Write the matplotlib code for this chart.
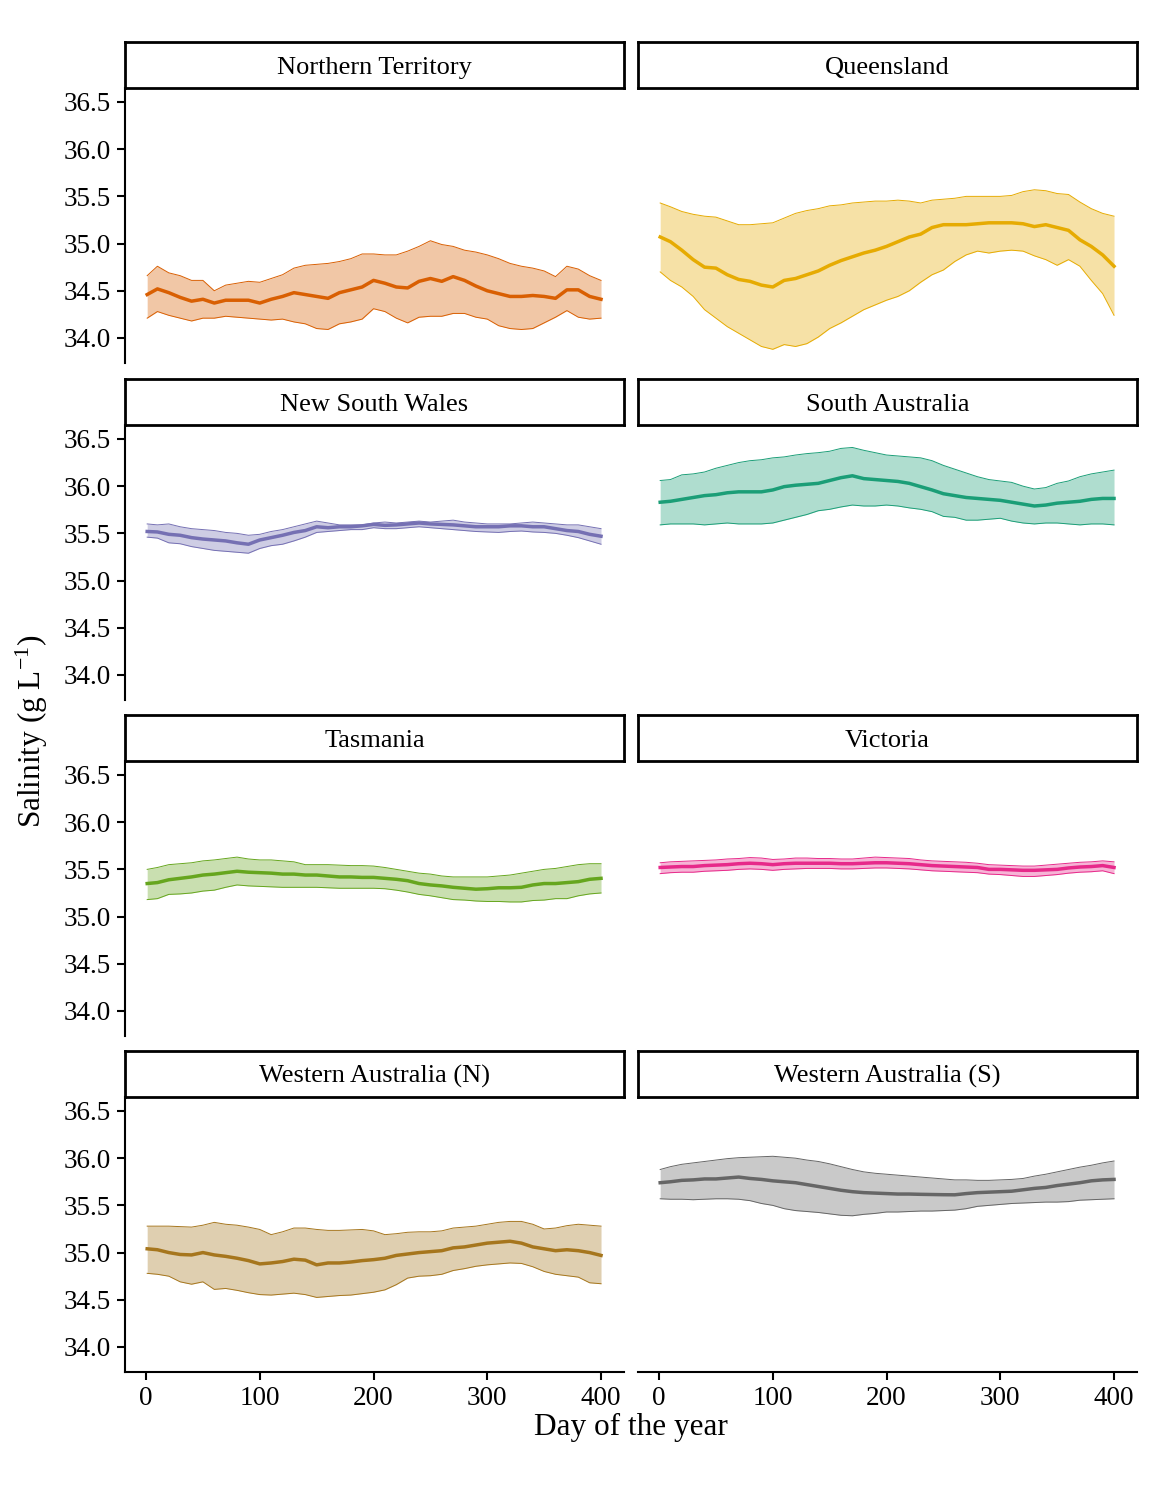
import matplotlib
matplotlib.use("Agg")
import matplotlib.pyplot as plt

plt.rcParams['font.family'] = ['Liberation Serif', 'DejaVu Serif']
plt.rcParams['mathtext.fontset'] = 'custom'
plt.rcParams['mathtext.rm'] = 'Liberation Serif'
plt.rcParams['mathtext.it'] = 'Liberation Serif:italic'

# day of the year (sampling points)
days = [1, 10, 20, 30, 40, 50, 60, 70, 80, 90, 100, 110, 120, 130, 140, 150, 160, 170, 180, 190,
        200, 210, 220, 230, 240, 250, 260, 270, 280, 290, 300, 310, 320, 330, 340, 350, 360, 370,
        380, 390, 400]

regions = ["Northern Territory", "Queensland", "New South Wales", "South Australia",
           "Tasmania", "Victoria", "Western Australia (N)", "Western Australia (S)"]
colors = ["#D95F02", "#E6AB02", "#7570B3", "#1B9E77", "#66A61E", "#E7298A", "#A6761D", "#666666"]

# Northern Territory
nt_mean = [34.46, 34.52, 34.48, 34.43, 34.39, 34.41, 34.37, 34.40, 34.40, 34.40, 34.37, 34.41, 34.44,
           34.48, 34.46, 34.44, 34.42, 34.48, 34.51, 34.54, 34.61, 34.58, 34.54, 34.53, 34.60, 34.63,
           34.60, 34.65, 34.61, 34.55, 34.50, 34.47, 34.44, 34.44, 34.45, 34.44, 34.42, 34.51, 34.51,
           34.44, 34.41]
nt_hi = [34.66, 34.76, 34.69, 34.66, 34.61, 34.61, 34.50, 34.56, 34.58, 34.60, 34.59, 34.63, 34.67,
         34.74, 34.77, 34.78, 34.79, 34.81, 34.84, 34.89, 34.89, 34.88, 34.88, 34.92, 34.97, 35.03,
         34.99, 34.97, 34.93, 34.91, 34.88, 34.84, 34.79, 34.76, 34.74, 34.71, 34.65, 34.76, 34.73,
         34.66, 34.61]
nt_lo = [34.21, 34.28, 34.24, 34.21, 34.18, 34.21, 34.21, 34.23, 34.22, 34.21, 34.20, 34.19, 34.20,
         34.17, 34.15, 34.10, 34.09, 34.15, 34.17, 34.20, 34.31, 34.28, 34.21, 34.16, 34.22, 34.23,
         34.23, 34.26, 34.26, 34.22, 34.20, 34.13, 34.10, 34.09, 34.10, 34.16, 34.22, 34.29, 34.22,
         34.20, 34.21]

# Queensland
qld_mean = [35.07, 35.02, 34.93, 34.83, 34.75, 34.74, 34.67, 34.62, 34.60, 34.56, 34.54, 34.61, 34.63,
            34.67, 34.71, 34.77, 34.82, 34.86, 34.90, 34.93, 34.97, 35.02, 35.07, 35.10, 35.17, 35.20,
            35.20, 35.20, 35.21, 35.22, 35.22, 35.22, 35.21, 35.18, 35.20, 35.17, 35.14, 35.04, 34.97,
            34.88, 34.76]
qld_hi = [35.43, 35.39, 35.34, 35.31, 35.29, 35.28, 35.24, 35.20, 35.20, 35.21, 35.22, 35.27, 35.32,
          35.35, 35.37, 35.40, 35.41, 35.43, 35.44, 35.45, 35.45, 35.46, 35.45, 35.43, 35.46, 35.47,
          35.48, 35.50, 35.50, 35.50, 35.50, 35.51, 35.55, 35.57, 35.56, 35.53, 35.52, 35.44, 35.37,
          35.32, 35.29]
qld_lo = [34.70, 34.61, 34.54, 34.44, 34.30, 34.21, 34.12, 34.05, 33.98, 33.91, 33.88, 33.93, 33.91,
          33.94, 34.01, 34.10, 34.16, 34.23, 34.30, 34.35, 34.40, 34.44, 34.50, 34.59, 34.67, 34.72,
          34.81, 34.88, 34.92, 34.90, 34.92, 34.93, 34.92, 34.87, 34.83, 34.77, 34.83, 34.76, 34.61,
          34.47, 34.24]

# New South Wales
nsw_mean = [35.52, 35.515, 35.49, 35.48, 35.455, 35.44, 35.43, 35.42, 35.40, 35.385, 35.43, 35.455,
            35.48, 35.51, 35.53, 35.57, 35.56, 35.57, 35.57, 35.58, 35.595, 35.585, 35.59, 35.60, 35.61,
            35.60, 35.595, 35.59, 35.58, 35.57, 35.57, 35.57, 35.58, 35.58, 35.57, 35.57, 35.55, 35.53,
            35.52, 35.49, 35.47]
nsw_hi = [35.60, 35.59, 35.60, 35.57, 35.55, 35.54, 35.53, 35.51, 35.50, 35.48, 35.49, 35.52, 35.54,
          35.57, 35.60, 35.63, 35.61, 35.59, 35.59, 35.59, 35.61, 35.62, 35.61, 35.62, 35.63, 35.62,
          35.63, 35.64, 35.62, 35.61, 35.60, 35.60, 35.60, 35.61, 35.62, 35.61, 35.60, 35.59, 35.59,
          35.57, 35.55]
nsw_lo = [35.46, 35.45, 35.40, 35.39, 35.36, 35.34, 35.32, 35.31, 35.30, 35.29, 35.34, 35.37, 35.385,
          35.42, 35.46, 35.51, 35.52, 35.53, 35.54, 35.54, 35.56, 35.55, 35.55, 35.56, 35.57, 35.56,
          35.55, 35.54, 35.53, 35.52, 35.515, 35.51, 35.52, 35.525, 35.515, 35.51, 35.50, 35.48,
          35.455, 35.42, 35.385]

# South Australia
sa_mean = [35.83, 35.84, 35.86, 35.88, 35.90, 35.91, 35.93, 35.94, 35.94, 35.94, 35.96, 35.995, 36.01,
           36.02, 36.03, 36.06, 36.09, 36.11, 36.08, 36.07, 36.06, 36.05, 36.03, 35.995, 35.96, 35.92,
           35.90, 35.88, 35.87, 35.86, 35.85, 35.83, 35.81, 35.79, 35.80, 35.82, 35.83, 35.84, 35.86,
           35.87, 35.87]
sa_hi = [36.06, 36.07, 36.12, 36.13, 36.15, 36.19, 36.22, 36.25, 36.27, 36.28, 36.30, 36.31, 36.33,
         36.345, 36.355, 36.37, 36.40, 36.41, 36.38, 36.355, 36.33, 36.32, 36.31, 36.30, 36.27, 36.22,
         36.18, 36.14, 36.10, 36.07, 36.055, 36.04, 36.00, 35.97, 35.985, 36.03, 36.055, 36.10, 36.13,
         36.15, 36.17]
sa_lo = [35.59, 35.60, 35.60, 35.60, 35.59, 35.60, 35.61, 35.60, 35.60, 35.60, 35.61, 35.64, 35.67,
         35.70, 35.74, 35.755, 35.78, 35.80, 35.79, 35.79, 35.80, 35.79, 35.77, 35.755, 35.73, 35.68,
         35.67, 35.64, 35.64, 35.65, 35.66, 35.63, 35.61, 35.60, 35.61, 35.61, 35.60, 35.59, 35.60,
         35.60, 35.59]

# Tasmania
tas_mean = [35.35, 35.36, 35.39, 35.405, 35.42, 35.44, 35.45, 35.465, 35.48, 35.47, 35.465, 35.46,
            35.45, 35.45, 35.44, 35.44, 35.43, 35.42, 35.42, 35.415, 35.415, 35.405, 35.395, 35.38,
            35.35, 35.335, 35.325, 35.31, 35.30, 35.29, 35.295, 35.305, 35.305, 35.31, 35.335, 35.35,
            35.35, 35.36, 35.37, 35.395, 35.405]
tas_hi = [35.50, 35.52, 35.55, 35.56, 35.57, 35.59, 35.60, 35.615, 35.63, 35.61, 35.60, 35.60, 35.59,
          35.58, 35.55, 35.55, 35.55, 35.545, 35.54, 35.54, 35.535, 35.52, 35.50, 35.48, 35.46, 35.45,
          35.43, 35.42, 35.42, 35.42, 35.42, 35.43, 35.44, 35.46, 35.48, 35.50, 35.51, 35.53, 35.55,
          35.56, 35.56]
tas_lo = [35.18, 35.19, 35.235, 35.24, 35.25, 35.27, 35.28, 35.31, 35.335, 35.325, 35.32, 35.315, 35.31,
          35.31, 35.31, 35.31, 35.305, 35.30, 35.30, 35.30, 35.30, 35.295, 35.28, 35.26, 35.235, 35.22,
          35.20, 35.18, 35.175, 35.165, 35.16, 35.16, 35.155, 35.155, 35.17, 35.175, 35.19, 35.19,
          35.22, 35.24, 35.25]

# Victoria
vic_mean = [35.52, 35.525, 35.53, 35.53, 35.54, 35.545, 35.55, 35.56, 35.565, 35.56, 35.55, 35.56,
            35.565, 35.565, 35.565, 35.565, 35.56, 35.56, 35.565, 35.57, 35.57, 35.565, 35.56, 35.55,
            35.54, 35.535, 35.53, 35.525, 35.52, 35.50, 35.50, 35.495, 35.49, 35.49, 35.495, 35.50,
            35.515, 35.525, 35.53, 35.54, 35.52]
vic_hi = [35.57, 35.58, 35.585, 35.59, 35.595, 35.60, 35.61, 35.615, 35.625, 35.62, 35.605, 35.61,
          35.62, 35.62, 35.615, 35.615, 35.61, 35.61, 35.62, 35.63, 35.625, 35.62, 35.615, 35.60, 35.59,
          35.585, 35.58, 35.575, 35.565, 35.55, 35.545, 35.54, 35.535, 35.535, 35.545, 35.555, 35.565,
          35.575, 35.58, 35.59, 35.58]
vic_lo = [35.455, 35.465, 35.47, 35.47, 35.48, 35.485, 35.49, 35.50, 35.505, 35.50, 35.49, 35.50,
          35.505, 35.51, 35.51, 35.51, 35.505, 35.505, 35.51, 35.515, 35.515, 35.51, 35.505, 35.495,
          35.485, 35.48, 35.475, 35.47, 35.465, 35.45, 35.445, 35.435, 35.425, 35.425, 35.435, 35.445,
          35.46, 35.47, 35.475, 35.485, 35.455]

# Western Australia (N)
wan_mean = [35.04, 35.03, 35.00, 34.98, 34.975, 35.00, 34.975, 34.96, 34.94, 34.915, 34.88, 34.89,
            34.905, 34.93, 34.92, 34.87, 34.89, 34.89, 34.90, 34.915, 34.925, 34.94, 34.97, 34.985,
            35.00, 35.01, 35.02, 35.05, 35.06, 35.08, 35.10, 35.11, 35.12, 35.10, 35.06, 35.04, 35.02,
            35.03, 35.02, 35.00, 34.97]
wan_hi = [35.28, 35.28, 35.28, 35.275, 35.27, 35.29, 35.32, 35.30, 35.29, 35.27, 35.245, 35.19, 35.22,
          35.26, 35.26, 35.245, 35.235, 35.235, 35.24, 35.245, 35.23, 35.19, 35.20, 35.215, 35.22,
          35.22, 35.23, 35.26, 35.27, 35.28, 35.30, 35.32, 35.33, 35.33, 35.30, 35.25, 35.26, 35.285,
          35.30, 35.29, 35.28]
wan_lo = [34.78, 34.77, 34.75, 34.69, 34.665, 34.69, 34.61, 34.62, 34.60, 34.575, 34.555, 34.55,
          34.56, 34.57, 34.555, 34.525, 34.535, 34.545, 34.55, 34.565, 34.58, 34.605, 34.66, 34.73,
          34.75, 34.755, 34.77, 34.81, 34.83, 34.855, 34.87, 34.88, 34.89, 34.885, 34.85, 34.80, 34.77,
          34.755, 34.74, 34.68, 34.67]

# Western Australia (S)
was_mean = [35.74, 35.75, 35.765, 35.77, 35.78, 35.78, 35.79, 35.80, 35.785, 35.775, 35.76, 35.75,
            35.74, 35.72, 35.70, 35.68, 35.66, 35.645, 35.635, 35.63, 35.625, 35.62, 35.62, 35.617,
            35.615, 35.613, 35.612, 35.625, 35.635, 35.64, 35.645, 35.65, 35.665, 35.68, 35.69, 35.71,
            35.725, 35.74, 35.76, 35.77, 35.775]
was_hi = [35.88, 35.91, 35.935, 35.95, 35.965, 35.98, 35.995, 36.005, 36.01, 36.015, 36.02, 36.01,
          36.00, 35.98, 35.965, 35.94, 35.91, 35.88, 35.855, 35.84, 35.83, 35.82, 35.81, 35.80, 35.79,
          35.78, 35.77, 35.77, 35.765, 35.765, 35.77, 35.775, 35.785, 35.81, 35.83, 35.855, 35.88,
          35.905, 35.925, 35.95, 35.97]
was_lo = [35.57, 35.565, 35.565, 35.56, 35.565, 35.57, 35.57, 35.565, 35.55, 35.52, 35.50, 35.465,
          35.445, 35.435, 35.425, 35.41, 35.395, 35.39, 35.405, 35.415, 35.43, 35.43, 35.435, 35.44,
          35.44, 35.445, 35.45, 35.465, 35.49, 35.50, 35.51, 35.52, 35.525, 35.53, 35.535, 35.535,
          35.54, 35.555, 35.56, 35.565, 35.57]

means = [nt_mean, qld_mean, nsw_mean, sa_mean, tas_mean, vic_mean, wan_mean, was_mean]
highs = [nt_hi, qld_hi, nsw_hi, sa_hi, tas_hi, vic_hi, wan_hi, was_hi]
lows = [nt_lo, qld_lo, nsw_lo, sa_lo, tas_lo, vic_lo, wan_lo, was_lo]

y_ticks = [34.0, 34.5, 35.0, 35.5, 36.0, 36.5]
x_ticks = [0, 100, 200, 300, 400]

W, H = 1152, 1488
fig = plt.figure(figsize=(W / 100, H / 100), dpi=100)

col_left = [125, 638]
col_width = 499
strip_top = [42, 379, 715, 1051]
strip_h = 46
panel_h = 275

for i, name in enumerate(regions):
    row, col = divmod(i, 2)
    x0 = col_left[col]
    top = strip_top[row] + strip_h
    ax = fig.add_axes([x0 / W, 1 - (top + panel_h) / H, col_width / W, panel_h / H])
    c = colors[i]
    ax.fill_between(days, lows[i], highs[i], color=c, alpha=0.35, linewidth=0)
    ax.plot(days, highs[i], color=c, lw=0.7)
    ax.plot(days, lows[i], color=c, lw=0.7)
    ax.plot(days, means[i], color=c, lw=2.5)
    ax.set_xlim(-18.5, 420.2)
    ax.set_ylim(33.735, 36.648)
    for s in ["top", "right"]:
        ax.spines[s].set_visible(False)
    ax.spines["left"].set_linewidth(1.5)
    ax.spines["bottom"].set_linewidth(1.5)
    ax.tick_params(width=1.5, length=6, labelsize=19.5, colors="black", pad=4)
    if col == 0:
        ax.set_yticks(y_ticks)
        ax.set_yticklabels([f"{v:.1f}" for v in y_ticks])
    else:
        ax.spines["left"].set_visible(False)
        ax.set_yticks([])
    if row == 3:
        ax.set_xticks(x_ticks)
        ax.set_xticklabels([str(v) for v in x_ticks])
    else:
        ax.spines["bottom"].set_visible(False)
        ax.set_xticks([])

    # strip
    sax = fig.add_axes([x0 / W, 1 - top / H, col_width / W, strip_h / H])
    sax.set_xticks([])
    sax.set_yticks([])
    for s in sax.spines.values():
        s.set_linewidth(2.0)
    sax.text(0.5, 0.44, name, ha="center", va="center", fontsize=19, transform=sax.transAxes)

fig.text(631 / W, 1 - 1427 / H, "Day of the year", ha="center", va="center", fontsize=22.5)
fig.text(32 / W, 1 - 731 / H, r"Salinity (g L$^{-1}$)", ha="center", va="center",
         rotation=90, fontsize=22.5)

fig.savefig("out.png", dpi=100)
